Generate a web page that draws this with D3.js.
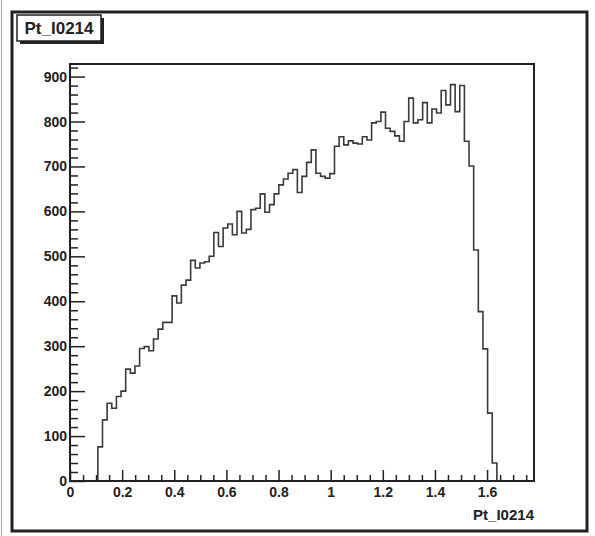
<!DOCTYPE html>
<html>
<head>
<meta charset="utf-8">
<script src="https://cdn.jsdelivr.net/npm/d3@7/dist/d3.min.js"></script>
<style>
  body { margin: 0; background: #fff; }
  text { font-family: "Liberation Sans", Arial, sans-serif; }
</style>
</head>
<body>
<script>
// histogram definition: 100 bins over [0, 1.78]
var histName = "Pt_I0214";
var nBins = 100, xMin = 0, xMax = 1.78;

// bin contents, bin 0 .. bin 99
var counts = [
    0, 0, 0, 0, 0, 0, 76, 136, 173, 162,
    188, 200, 249, 240, 256, 295, 299, 290, 316, 338,
    353, 353, 412, 396, 436, 447, 491, 474, 485, 488,
    500, 553, 522, 563, 572, 548, 600, 552, 560, 604,
    607, 639, 598, 615, 639, 659, 672, 685, 693, 642,
    678, 709, 737, 685, 678, 674, 684, 745, 766, 748,
    757, 752, 750, 766, 759, 797, 800, 821, 785, 778,
    768, 756, 800, 852, 797, 804, 842, 797, 828, 819,
    869, 837, 882, 822, 880, 756, 701, 514, 377, 294,
    151, 40, 0, 0, 0, 0, 0, 0, 0, 0
];

var yMax = 928;
var yMajor = [0, 100, 200, 300, 400, 500, 600, 700, 800, 900];
var xMajor = [0, 0.2, 0.4, 0.6, 0.8, 1, 1.2, 1.4, 1.6];

var width = 595, height = 536;
var frame = { left: 70, top: 64, right: 534, bottom: 481 };

var svg = d3.select("body")
    .append("svg")
    .attr("width", width)
    .attr("height", height);

// canvas border
svg.append("line")
    .attr("x1", 1.5).attr("x2", 1.5)
    .attr("y1", 0).attr("y2", height)
    .attr("stroke", "#aaa")
    .attr("stroke-width", 1);

svg.append("rect")
    .attr("x", 12)
    .attr("y", 12)
    .attr("width", 575)
    .attr("height", 519)
    .attr("fill", "#fff")
    .attr("stroke", "#222")
    .attr("stroke-width", 3);

var x = d3.scaleLinear()
    .domain([xMin, xMax])
    .range([frame.left, frame.right]);

var y = d3.scaleLinear()
    .domain([0, yMax])
    .range([frame.bottom, frame.top]);

var binW = (xMax - xMin) / nBins;

// step outline of the histogram
var pts = [[x(xMin), y(0)]];
counts.forEach(function(c, i) {
    pts.push([x(xMin + i * binW), y(c)]);
    pts.push([x(xMin + (i + 1) * binW), y(c)]);
});
pts.push([x(xMax), y(0)]);

svg.append("path")
    .attr("d", d3.line()(pts))
    .attr("fill", "none")
    .attr("stroke", "#3a3a3a")
    .attr("stroke-width", 1.6);

// y axis, ticks pointing into the frame
var yMinorVals = d3.range(0, yMax, 20).filter(function(v) { return v % 100 != 0; });

svg.append("g")
    .attr("transform", "translate(" + frame.left + ",0)")
    .call(d3.axisLeft(y).tickValues(yMinorVals).tickSizeInner(-8).tickSizeOuter(0).tickFormat(""))
    .call(function(g) { g.select(".domain").remove(); });

svg.append("g")
    .attr("class", "yaxis")
    .attr("transform", "translate(" + frame.left + ",0)")
    .call(d3.axisLeft(y).tickValues(yMajor).tickSizeInner(-15).tickSizeOuter(0).tickPadding(3))
    .call(function(g) { g.select(".domain").remove(); });

// x axis
var xMinorVals = d3.range(0.05, xMax, 0.05).filter(function(v) {
    return Math.abs(v / 0.2 - Math.round(v / 0.2)) > 0.01;
});

svg.append("g")
    .attr("transform", "translate(0," + frame.bottom + ")")
    .call(d3.axisBottom(x).tickValues(xMinorVals).tickSizeInner(-6).tickSizeOuter(0).tickFormat(""))
    .call(function(g) { g.select(".domain").remove(); });

svg.append("g")
    .attr("class", "xaxis")
    .attr("transform", "translate(0," + frame.bottom + ")")
    .call(d3.axisBottom(x).tickValues(xMajor).tickSizeInner(-11).tickSizeOuter(0).tickPadding(6)
        .tickFormat(function(d) { return d3.format("")(+d.toFixed(1)); }))
    .call(function(g) { g.select(".domain").remove(); });

svg.selectAll(".tick line")
    .attr("stroke", "#222")
    .attr("stroke-width", 1.5);

svg.selectAll(".yaxis text, .xaxis text")
    .attr("font-size", "14px")
    .attr("font-weight", "700")
    .attr("fill", "#222");

// frame
svg.append("rect")
    .attr("x", frame.left)
    .attr("y", frame.top)
    .attr("width", frame.right - frame.left)
    .attr("height", frame.bottom - frame.top)
    .attr("fill", "none")
    .attr("stroke", "#222")
    .attr("stroke-width", 2);

// x axis title
svg.append("text")
    .attr("x", frame.right)
    .attr("y", 520)
    .attr("text-anchor", "end")
    .attr("font-size", "15px")
    .attr("font-weight", "700")
    .attr("fill", "#222")
    .text(histName);

// title box with shadow
svg.append("rect")
    .attr("x", 20)
    .attr("y", 18)
    .attr("width", 84)
    .attr("height", 26)
    .attr("fill", "#222");

svg.append("rect")
    .attr("x", 17)
    .attr("y", 15)
    .attr("width", 84)
    .attr("height", 26)
    .attr("fill", "#fff")
    .attr("stroke", "#222")
    .attr("stroke-width", 1.5);

svg.append("text")
    .attr("x", 59)
    .attr("y", 34)
    .attr("text-anchor", "middle")
    .attr("font-size", "17px")
    .attr("font-weight", "700")
    .attr("fill", "#222")
    .text(histName);
</script>
</body>
</html>
